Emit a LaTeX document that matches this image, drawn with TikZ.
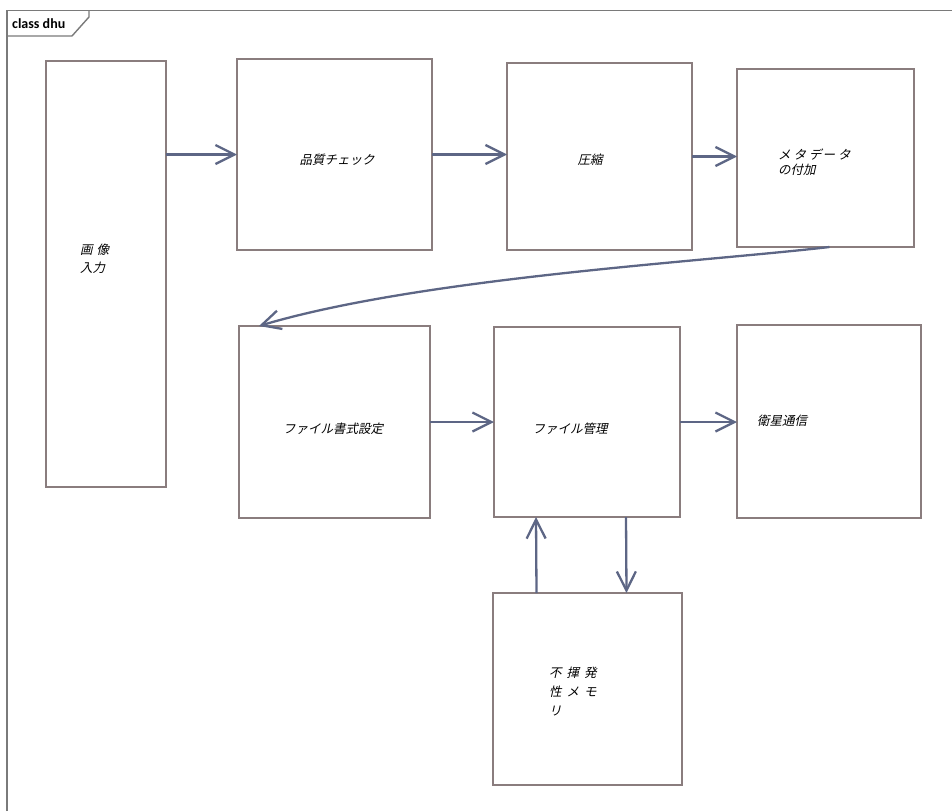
\documentclass[tikz,border=0pt]{standalone}
\usepackage{fontspec}
\usepackage{tikz}
\usetikzlibrary{arrows.meta,calc}
\newfontfamily\jpfont[FakeSlant=0.22]{Noto Sans CJK JP}
\newfontfamily\tabfont{Carlito}
\definecolor{boxgray}{HTML}{8A7D7E}
\definecolor{flowblue}{HTML}{5D6685}
\definecolor{framegray}{HTML}{7A7A7A}

\begin{document}
\begin{tikzpicture}[
  x=1pt, y=-1pt,
  box/.style={draw=boxgray, line width=2.6pt, fill=white, inner sep=0pt, outer sep=0pt},
  lbl/.style={font=\jpfont\fontsize{12.5}{18}\selectfont, inner sep=0pt, align=left},
  arrow/.style={-{Straight Barb[length=19pt,width=19pt]}, draw=flowblue, line width=2.3pt},
  frame/.style={draw=framegray, line width=1.4pt}
]
\useasboundingbox (0,0) rectangle (952,811);

% frame and tab
\draw[frame] (7,811) -- (7,10.5) -- (952,10.5);
\draw[frame] (7,36) -- (72,36) -- (89,17) -- (89,10.5);
\node[font=\tabfont\bfseries\fontsize{14}{16}\selectfont, anchor=west, inner sep=0pt] (tab) at (12,24) {class dhu};

% boxes
\node[box, minimum width=120pt, minimum height=426pt] (img) at (106,274) {};
\node[box, minimum width=195pt, minimum height=191pt] (qc) at (334.5,154.5) {};
\node[box, minimum width=185pt, minimum height=187pt] (comp) at (599.5,156.5) {};
\node[box, minimum width=177pt, minimum height=178pt] (meta) at (825.5,158) {};
\node[box, minimum width=191pt, minimum height=192pt] (fmt) at (334.5,422) {};
\node[box, minimum width=186pt, minimum height=190pt] (fman) at (587,422) {};
\node[box, minimum width=184pt, minimum height=193pt] (sat) at (829,421.5) {};
\node[box, minimum width=189pt, minimum height=192pt] (nvm) at (587.5,689) {};

% labels
\node[lbl, anchor=west] (img-t) at (80,259) {画\hspace{4pt}像\\入力};
\node[lbl] (qc-t) at (337,160) {品質チェック};
\node[lbl] (comp-t) at (590,160) {圧縮};
\node[lbl, anchor=west, font=\jpfont\fontsize{12.5}{15}\selectfont] (meta-t) at (778,162) {メ\hspace{3pt}タ\hspace{3pt}デ\hspace{1pt}ー\hspace{3pt}タ\\の付加};
\node[lbl] (fmt-t) at (333,429) {ファイル書式設定};
\node[lbl] (fman-t) at (570,429) {ファイル管理};
\node[lbl] (sat-t) at (782,421) {衛星通信};
\node[lbl, anchor=west, font=\jpfont\fontsize{12.5}{19}\selectfont] (nvm-t) at (549,692) {不\hspace{5pt}揮\hspace{5pt}発\\性\hspace{5pt}メ\hspace{5pt}モ\\リ};

% connectors
\draw[arrow] (img.east |- qc.west) -- (qc.west);
\draw[arrow] (qc.east) -- (comp.west |- qc.east);
\draw[arrow] (comp.east) -- (meta.west |- comp.east);
\draw[arrow] ([xshift=4pt]meta.south) .. controls (700,262) and (420,278) .. ([xshift=20pt]fmt.north west);
\draw[arrow] (fmt.east) -- (fman.west);
\draw[arrow] (fman.east) -- (sat.west |- fman.east);
\draw[arrow] ([xshift=-51pt]nvm.north) -- ([xshift=-51pt]fman.south);
\draw[arrow] ([xshift=39pt]fman.south) -- ([xshift=39pt]nvm.north);
\end{tikzpicture}
\end{document}
